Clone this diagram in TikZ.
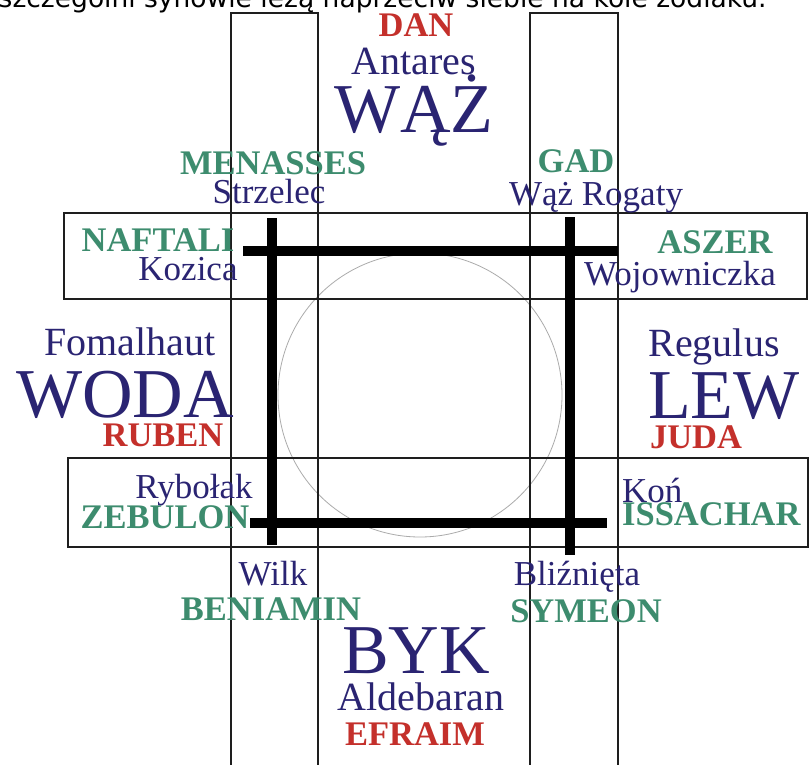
\documentclass[tikz,border=0pt]{standalone}
\usepackage{fontspec}
\setmainfont{Liberation Serif}
\newfontfamily\captionfont{DejaVu Sans}
\usepackage{tikz}
\definecolor{zblue}{HTML}{2A2472}
\definecolor{zgreen}{HTML}{3D8C6E}
\definecolor{zred}{HTML}{C4302B}
\definecolor{ring}{HTML}{ABABAB}
\definecolor{rule}{HTML}{1E1E1E}

\begin{document}
\begin{tikzpicture}[
  x=1pt, y=-1pt,
  every node/.style={inner sep=0pt, anchor=base},
  tribe/.style={font=\fontsize{34.5}{34.5}\selectfont\bfseries, text=zgreen},
  elder/.style={tribe, text=zred},
  starname/.style={font=\fontsize{40}{40}\selectfont, text=zblue},
  figname/.style={font=\fontsize{35}{35}\selectfont, text=zblue},
  sign/.style={font=\fontsize{70}{70}\selectfont, text=zblue},
  box/.style={draw=rule, line width=1.4pt},
  bar/.style={draw=black, line width=10pt},
]
\clip (0,0) rectangle (811,765);
\fill[white] (0,0) rectangle (811,765);

% caption line, cut off at the top
\node[anchor=base west, font=\captionfont\fontsize{26.5}{26.5}\selectfont] (caption) at (-1.5,8)
  {szczególni synowie leżą naprzeciw siebie na kole zodiaku.};

% circle and the four strips
\draw[ring, line width=0.8pt] (420,395) circle (142);
\draw[box] (231,800) -- (231,13) -- (318,13) -- (318,800);
\draw[box] (530,800) -- (530,13) -- (618,13) -- (618,800);
\draw[box] (64,213) rectangle (807,299);
\draw[box] (68,458) rectangle (808,547);

% thick square
\draw[bar] (243,251) -- (618,251);
\draw[bar] (272,218) -- (272,545);
\draw[bar] (570,217) -- (570,555);
\draw[bar] (250,523) -- (607,523);

% top
\node[elder]    (dan)      at (416,37)  {DAN};
\node[starname] (antares)  at (414,75)  {Antares};
\node[sign]     (waz)      at (414,132) {WĄŻ};
\node[tribe]    (menasses) at (273,174) {MENASSES};
\node[figname]  (strzelec) at (269,203) {Strzelec};
\node[tribe]    (gad)      at (576,172) {GAD};
\node[figname]  (rogaty)   at (596,205) {Wąż Rogaty};
\node[tribe]    (naftali)  at (158,251) {NAFTALI};
\node[figname]  (kozica)   at (188,280) {Kozica};
\node[tribe]    (aszer)    at (715,253) {ASZER};
\node[figname]  (wojown)   at (680,285) {Wojowniczka};

% left and right
\node[starname] (fomal)    at (130,355) {Fomalhaut};
\node[sign]     (woda)     at (125,417) {WODA};
\node[elder]    (ruben)    at (163,446) {RUBEN};
\node[figname]  (rybolak)  at (194,498) {Rybołak};
\node[tribe]    (zebulon)  at (165,528) {ZEBULON};
\node[starname] (regulus)  at (714,356) {Regulus};
\node[sign]     (lew)      at (724,418) {LEW};
\node[elder]    (juda)     at (696,448) {JUDA};
\node[figname, anchor=base west] (kon)      at (622,502) {Koń};
\node[tribe, anchor=base west]   (issachar) at (622,525) {ISSACHAR};

% bottom
\node[figname]  (wilk)     at (273,585) {Wilk};
\node[tribe]    (beniamin) at (271,620) {BENIAMIN};
\node[figname]  (blizn)    at (577,585) {Bliźnięta};
\node[tribe]    (symeon)   at (586,622) {SYMEON};
\node[sign]     (byk)      at (416,673) {BYK};
\node[starname] (aldeb)    at (421,710) {Aldebaran};
\node[elder]    (efraim)   at (415,745) {EFRAIM};
\end{tikzpicture}
\end{document}
